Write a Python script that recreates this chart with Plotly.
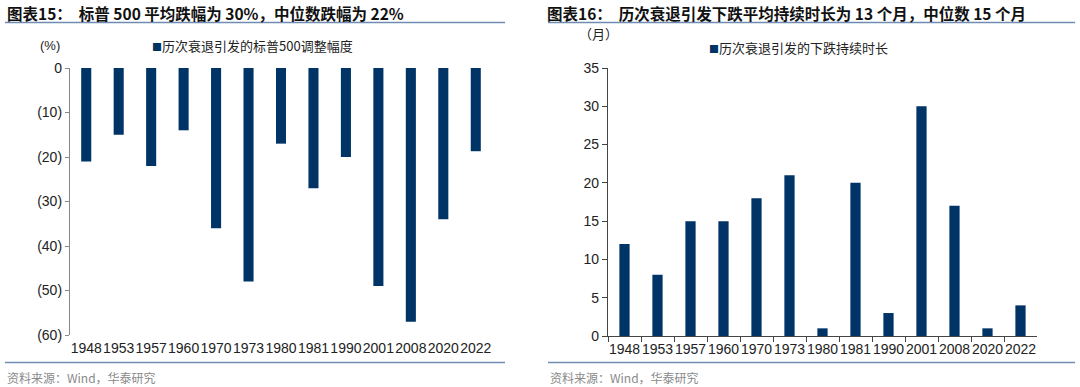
import plotly.graph_objects as go

years = ["1948", "1953", "1957", "1960", "1970", "1973", "1980", "1981", "1990", "2001", "2008", "2020", "2022"]
drawdown_pct = [-21, -15, -22, -14, -36, -48, -17, -27, -20, -49, -57, -34, -18.7]
duration_months = [12, 8, 15, 15, 18, 21, 1, 20, 3, 30, 17, 1, 4]

left_ticks = [0, -10, -20, -30, -40, -50, -60]
left_ticktext = ["0", "(10)", "(20)", "(30)", "(40)", "(50)", "(60)"]
right_ticks = [0, 5, 10, 15, 20, 25, 30, 35]

title_left = "<b>图表15：  标普 500 平均跌幅为 30%，中位数跌幅为 22%</b>"
title_right = "<b>图表16：  历次衰退引发下跌平均持续时长为 13 个月，中位数 15 个月</b>"
legend_left = "历次衰退引发的标普500调整幅度"
legend_right = "历次衰退引发的下跌持续时长"
unit_left = "(%)"
unit_right = "（月）"
source = "资料来源：Wind，华泰研究"

NAVY = "#003366"
W, H = 1080, 387
FONT = "Liberation Sans, Arial, Noto Sans CJK SC"
CJK = "Noto Sans CJK SC, sans-serif"

def px(x):
    return x / W

def py(y):
    return 1 - y / H

fig = go.Figure()
fig.add_trace(go.Bar(x=years, y=drawdown_pct, marker=dict(color=NAVY, line=dict(width=0)),
                     xaxis="x", yaxis="y", showlegend=False))
fig.add_trace(go.Bar(x=years, y=duration_months, marker=dict(color=NAVY, line=dict(width=0)),
                     xaxis="x2", yaxis="y2", showlegend=False))

ydom = [py(335), py(68)]
xl = [px(70), px(492)]
xr = [px(608), px(1037)]
ydom_r = [py(336), py(68)]

cat_range = [-0.5, len(years) - 0.5]
tickfont = dict(family=FONT, size=14, color="#222")

fig.update_layout(
    width=W, height=H, margin=dict(l=0, r=0, t=0, b=0, autoexpand=False),
    paper_bgcolor="white", plot_bgcolor="white",
    bargap=0.69,
    xaxis=dict(domain=xl, anchor="y", type="category", categoryorder="array", categoryarray=years,
               range=cat_range, showline=False, ticks="", showgrid=False, tickfont=tickfont,
               ticklabelstandoff=3, zeroline=False, tickangle=0, automargin=False),
    xaxis3=dict(domain=xl, anchor="y", overlaying="x", side="top", type="category",
                categoryorder="array", categoryarray=years, range=cat_range,
                showline=True, linecolor="#555", linewidth=1.3, ticks="outside", ticklen=4,
                tickcolor="#555", tickson="boundaries", showticklabels=False, showgrid=False,
                automargin=False),
    yaxis=dict(domain=ydom, anchor="x", range=[-60, 0], tickvals=left_ticks, ticktext=left_ticktext,
               showline=True, linecolor="#888", linewidth=1.3, ticks="outside", ticklen=4,
               tickcolor="#888", showgrid=False, zeroline=False, tickfont=tickfont, automargin=False),
    xaxis2=dict(domain=xr, anchor="y2", type="category", categoryorder="array", categoryarray=years,
                range=cat_range, showline=True, linecolor="#444", linewidth=1.3, ticks="outside",
                ticklen=5, tickcolor="#444", tickson="boundaries", showgrid=False,
                tickfont=tickfont, zeroline=False, tickangle=0, automargin=False),
    yaxis2=dict(domain=ydom_r, anchor="x2", range=[0, 35], tickvals=right_ticks,
                showline=True, linecolor="#444", linewidth=1.3, ticks="outside", ticklen=5,
                tickcolor="#444", showgrid=False, zeroline=False, tickfont=tickfont, automargin=False),
)

annotations = [
    dict(x=px(5), y=py(13), text=title_left, font=dict(family=CJK, size=15.5, color="#111"),
         xanchor="left", yanchor="middle"),
    dict(x=px(545), y=py(13), text=title_right, font=dict(family=CJK, size=15.5, color="#111"),
         xanchor="left", yanchor="middle"),
    dict(x=px(38), y=py(46), text=unit_left, font=dict(family=FONT, size=13, color="#222"),
         xanchor="left", yanchor="middle"),
    dict(x=px(577), y=py(33), text=unit_right, font=dict(family=CJK, size=13, color="#222"),
         xanchor="left", yanchor="middle"),
    dict(x=px(150), y=py(46), text=f"<span style='color:{NAVY};font-size:10px'>■</span>" + legend_left,
         font=dict(family=CJK, size=13, color="#222"), xanchor="left", yanchor="middle"),
    dict(x=px(707), y=py(47), text=f"<span style='color:{NAVY};font-size:10px'>■</span>" + legend_right,
         font=dict(family=CJK, size=13, color="#222"), xanchor="left", yanchor="middle"),
    dict(x=px(5), y=py(377), text=source, font=dict(family=CJK, size=12, color="#8a8a8a"),
         xanchor="left", yanchor="middle"),
    dict(x=px(548), y=py(377), text=source, font=dict(family=CJK, size=12, color="#8a8a8a"),
         xanchor="left", yanchor="middle"),
]
for a in annotations:
    a.update(xref="paper", yref="paper", showarrow=False)
fig.update_layout(annotations=annotations)

LINEC = "#6f8db3"
shapes = []
for x0, x1 in [(5, 505), (548, 1075)]:
    for yy in (22.5, 362.5):
        shapes.append(dict(type="line", xref="paper", yref="paper", x0=px(x0), x1=px(x1),
                           y0=py(yy), y1=py(yy), line=dict(color=LINEC, width=1.5)))
fig.update_layout(shapes=shapes)

fig.write_html("out.html", config={"displayModeBar": False},
               post_script="document.body.style.margin='0';")
